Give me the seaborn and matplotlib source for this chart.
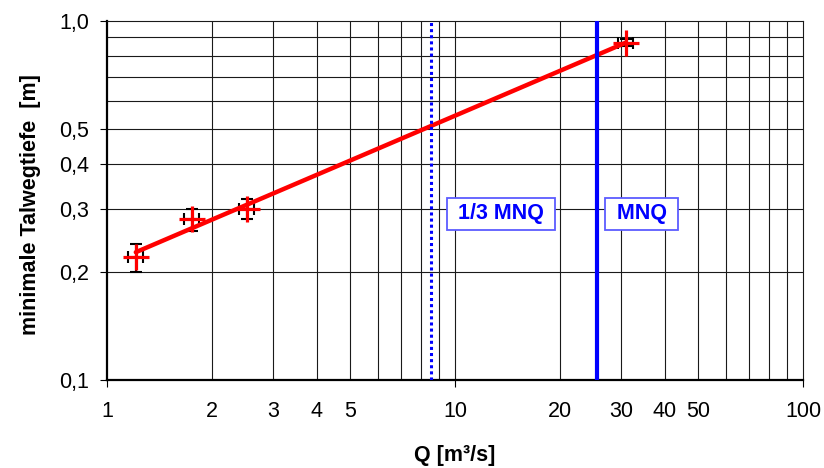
import numpy as np
import pandas as pd
import matplotlib
matplotlib.use("Agg")
import matplotlib.pyplot as plt
import seaborn as sns
from matplotlib.ticker import FixedLocator, FixedFormatter, NullLocator

# Messwerte: Abfluss Q [m³/s] und minimale Talwegtiefe [m]
q_values = [1.21, 1.75, 2.52, 31.0]
depth_values = [0.22, 0.28, 0.30, 0.87]
depth_err = [0.02, 0.02, 0.02, 0.02]
q_rel_err = 0.05

# Mittlerer Niedrigwasserabfluss
mnq = 25.6
mnq_third = mnq / 3

y_ticks = [0.1, 0.2, 0.3, 0.4, 0.5, 1.0]
y_ticklabels = ["0,1", "0,2", "0,3", "0,4", "0,5", "1,0"]
x_ticks_major = [1, 10, 100]
x_ticklabels_major = ["1", "10", "100"]
x_ticks_minor = [2, 3, 4, 5, 20, 30, 40, 50]
x_ticklabels_minor = ["2", "3", "4", "5", "20", "30", "40", "50"]

df = pd.DataFrame({"Q": q_values, "h": depth_values, "h_err": depth_err})
df["Q_err"] = df["Q"] * q_rel_err

# Potenzgesetz-Ausgleich h = a * Q^b (lineare Regression im log-log-Raum)
b, log_a = np.polyfit(np.log10(df["Q"]), np.log10(df["h"]), 1)
q_fit = np.geomspace(df["Q"].min(), df["Q"].max(), 50)
fit_df = pd.DataFrame({"Q": q_fit, "h": 10 ** log_a * q_fit ** b})

sns.set_theme(style="white")
plt.rcParams["font.family"] = ["Liberation Sans", "DejaVu Sans"]

fig = plt.figure(figsize=(8.24, 4.68), dpi=100)
ax = fig.add_axes([107 / 824, 1 - 380 / 468, 696 / 824, 359 / 468])
ax.set_xscale("log")
ax.set_yscale("log")
ax.set_xlim(1, 100)
ax.set_ylim(0.1, 1.0)

# Gitternetz
grid_kw = dict(color="#1a1a1a", lw=0.8, zorder=0.5)
for yv in [0.2, 0.3, 0.4, 0.5, 0.6, 0.7, 0.8, 0.9]:
    ax.axhline(yv, **grid_kw)
for xv in list(range(2, 10)) + [10] + list(range(20, 100, 10)):
    ax.axvline(xv, **grid_kw)

# Fehlerbalken
ax.errorbar(df["Q"], df["h"], yerr=df["h_err"], xerr=df["Q_err"], fmt="none",
            ecolor="black", elinewidth=1.5, capsize=4.5, capthick=1.5, zorder=2)

# Ausgleichslinie
sns.lineplot(data=fit_df, x="Q", y="h", color="red", lw=3.2, ax=ax, zorder=3)

# Messpunkte
sns.scatterplot(data=df, x="Q", y="h", marker="+", s=360, color="red",
                linewidth=2.3, ax=ax, zorder=4)

# MNQ-Linien
ax.axvline(mnq_third, color="blue", lw=2.2, ls=(0, (1, 1)), zorder=3)
ax.axvline(mnq, color="blue", lw=3.0, zorder=3)

box_kw = dict(boxstyle="square,pad=0.25", fc="white", ec="#5c5cff", lw=1.3)
ax.text(13.56, 0.29, " 1/3 MNQ ", ha="center", va="center", color="blue",
        fontsize=15.5, fontweight="bold", bbox=box_kw, zorder=5)
ax.text(34.4, 0.29, " MNQ ", ha="center", va="center", color="blue",
        fontsize=15.5, fontweight="bold", bbox=box_kw, zorder=5)

# Achsen
ax.xaxis.set_major_locator(FixedLocator(x_ticks_major))
ax.xaxis.set_major_formatter(FixedFormatter(x_ticklabels_major))
ax.xaxis.set_minor_locator(FixedLocator(x_ticks_minor))
ax.xaxis.set_minor_formatter(FixedFormatter(x_ticklabels_minor))
ax.yaxis.set_major_locator(FixedLocator(y_ticks))
ax.yaxis.set_major_formatter(FixedFormatter(y_ticklabels))
ax.yaxis.set_minor_locator(NullLocator())

ax.tick_params(axis="x", which="major", direction="out", length=5, width=0.8,
               pad=10, labelsize=15.5, colors="black", bottom=True)
ax.tick_params(axis="x", which="minor", length=0, pad=15, labelsize=15.5,
               colors="black", bottom=True)
ax.tick_params(axis="y", which="major", direction="out", length=5, width=0.8,
               pad=8, labelsize=15.5, colors="black", left=True)

for side in ["left", "bottom"]:
    ax.spines[side].set_linewidth(1.6)
    ax.spines[side].set_color("black")
for side in ["top", "right"]:
    ax.spines[side].set_linewidth(0.8)
    ax.spines[side].set_color("#1a1a1a")

ax.set_xlabel("Q [m³/s]", fontsize=15.5, fontweight="bold", color="black")
ax.set_ylabel("minimale Talwegtiefe  [m]", fontsize=15.5, fontweight="bold",
              color="black")
ax.xaxis.label.set_va("center")
ax.yaxis.label.set_va("center")
ax.xaxis.set_label_coords(0.5, -0.21)
ax.yaxis.set_label_coords(-0.11, 0.49)

fig.savefig("out.png", dpi=100, facecolor="white")
